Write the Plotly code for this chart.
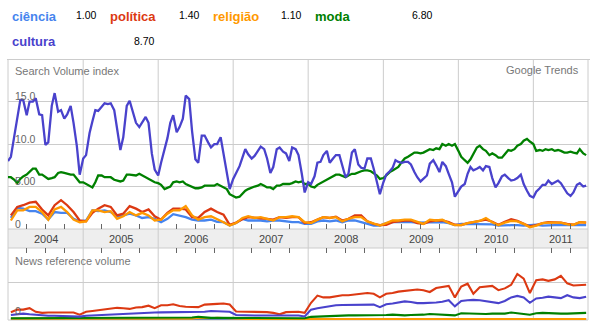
import pandas as pd
import plotly.graph_objects as go

# ---- data -------------------------------------------------------------
terms = ["ciência", "política", "religião", "moda", "cultura"]
term_colors = ["#4684ee", "#dc3912", "#ff9900", "#008000", "#4942cc"]
term_averages = ["1.00", "1.40", "1.10", "6.80", "8.70"]

# Search Volume index, half-monthly (1st / 15th), Jan 2004 - Sep 2011
cultura_search = [
    8.0, 8.5, 11.0, 13.1, 15.2, 15.2, 13.4, 15.0, 15.0, 15.4, 13.5, 13.4, 9.9, 10.2, 14.5, 16.0, 13.8, 14.0, 13.0, 13.5, 14.5, 12.5, 9.8, 6.4,
    8.3, 8.7, 11.3, 12.7, 14.0, 13.9, 14.4, 14.8, 14.7, 14.8, 14.0, 12.0, 9.3, 10.8, 14.5, 15.1, 13.8, 12.5, 12.0, 12.5, 13.2, 12.5, 8.9, 7.0,
    6.3, 7.8, 9.5, 10.7, 12.5, 13.4, 11.4, 12.0, 13.0, 15.7, 15.3, 11.5, 8.2, 7.8, 11.0, 11.0, 10.2, 9.6, 10.0, 10.0, 10.8, 8.8, 7.0, 4.7,
    5.9, 6.6, 7.4, 8.4, 9.4, 8.8, 8.3, 8.6, 9.2, 9.7, 9.4, 8.3, 6.6, 7.3, 9.4, 9.6, 9.1, 8.9, 8.0, 9.6, 9.4, 8.7, 6.5, 4.3,
    5.5, 5.3, 6.2, 7.8, 7.9, 8.7, 9.2, 7.8, 8.3, 8.7, 8.7, 7.5, 6.1, 6.5, 9.0, 9.4, 7.6, 7.2, 7.1, 8.3, 8.3, 7.1, 5.5, 4.1,
    5.5, 6.4, 6.8, 7.2, 8.1, 7.9, 7.8, 7.9, 7.9, 7.6, 6.7, 6.1, 5.6, 5.9, 6.3, 7.7, 8.1, 7.5, 6.7, 7.9, 7.4, 6.5, 5.5, 3.8,
    4.5, 5.0, 5.3, 6.5, 7.3, 6.9, 7.1, 7.3, 6.9, 7.4, 7.3, 6.0, 4.9, 5.4, 6.2, 6.4, 6.0, 5.7, 5.8, 6.0, 6.4, 5.3, 4.5, 3.9,
    3.7, 4.4, 4.8, 5.2, 5.2, 5.7, 5.3, 5.5, 5.7, 5.4, 4.8, 4.2, 3.9, 4.3, 5.2, 5.4, 5.0, 5.1,
]
moda_search = [
    6.1, 6.1, 5.8, 5.4, 5.9, 6.2, 6.4, 6.7, 7.1, 7.1, 6.4, 6.4, 6.1, 5.9, 6.0, 6.1, 6.6, 6.7, 6.6, 6.5, 6.4, 6.4, 5.9, 5.5,
    5.5, 5.3, 5.1, 4.9, 5.5, 6.3, 6.3, 6.1, 6.1, 6.1, 5.8, 5.7, 5.6, 5.7, 6.4, 6.4, 6.3, 6.3, 6.5, 6.3, 6.1, 5.9, 5.7, 5.5,
    5.4, 5.2, 4.7, 4.9, 5.0, 5.5, 5.6, 5.5, 5.6, 5.3, 5.1, 5.0, 4.8, 4.8, 4.9, 5.1, 5.1, 5.1, 5.1, 5.3, 5.1, 4.9, 4.7, 4.1,
    3.9, 3.7, 3.8, 4.2, 4.5, 4.7, 4.9, 5.0, 5.1, 5.3, 5.1, 4.9, 4.9, 4.7, 5.1, 5.1, 5.3, 5.3, 5.3, 5.4, 5.6, 5.5, 5.6, 5.3,
    5.3, 5.0, 4.9, 5.2, 5.4, 5.6, 5.8, 6.0, 6.2, 6.4, 6.4, 6.3, 6.1, 6.3, 6.5, 6.5, 6.7, 6.8, 6.9, 6.9, 6.8, 6.6, 6.3, 5.9,
    6.0, 6.3, 6.7, 6.9, 7.1, 7.3, 7.9, 8.3, 8.5, 8.7, 9.0, 9.0, 8.9, 9.0, 9.2, 9.4, 9.3, 9.5, 9.4, 10.0, 9.8, 10.0, 9.8, 10.0,
    9.2, 8.5, 8.1, 7.8, 8.2, 8.8, 9.6, 9.8, 9.4, 9.2, 8.7, 8.9, 8.7, 8.4, 8.4, 8.8, 9.3, 9.2, 9.4, 9.8, 10.0, 10.4, 10.6, 10.3,
    10.0, 9.2, 9.3, 9.2, 9.4, 9.3, 9.4, 9.2, 9.3, 9.2, 9.0, 9.0, 9.1, 9.0, 8.9, 9.4, 8.9, 8.7,
]

# Search Volume index, monthly, Jan 2004 - Sep 2011
ciencia_search = [
    1.3, 2.5, 2.4, 2.1, 2.1, 1.8, 1.1, 2.0, 1.9, 1.9, 1.2, 0.9,
    1.0, 2.2, 2.1, 2.2, 2.0, 1.5, 1.6, 1.8, 1.6, 1.3, 1.4, 1.2,
    0.8, 1.2, 1.75, 1.6, 1.4, 1.1, 1.0, 1.0, 1.1, 0.85, 0.8, 0.4,
    0.7, 1.2, 1.0, 1.0, 1.0, 0.9, 1.0, 1.0, 0.9, 0.8, 0.8, 0.6,
    0.6, 0.9, 1.0, 0.9, 1.0, 0.8, 1.0, 1.0, 0.8, 0.6, 0.4, 0.4,
    0.7, 0.8, 0.8, 0.85, 0.8, 0.75, 0.75, 0.8, 0.8, 0.8, 0.7, 0.45,
    0.6, 0.6, 0.55, 0.55, 0.6, 0.55, 0.4, 0.45, 0.45, 0.45, 0.4, 0.45,
    0.5, 0.4, 0.45, 0.45, 0.45, 0.45, 0.4, 0.45, 0.45,
]
politica_search = [
    1.6, 2.6, 2.8, 3.1, 3.2, 2.3, 1.6, 2.8, 3.4, 2.8, 2.0, 1.0,
    0.9, 1.9, 2.4, 2.8, 2.6, 1.6, 1.8, 2.7, 2.4, 2.0, 2.3, 1.5,
    1.1, 1.9, 2.4, 2.4, 2.3, 1.4, 1.3, 2.0, 2.4, 2.0, 1.7, 0.5,
    0.75, 1.15, 1.4, 1.3, 1.25, 1.2, 1.1, 1.4, 1.3, 1.4, 1.4, 0.7,
    0.8, 1.1, 1.4, 1.3, 1.45, 1.0, 1.2, 1.6, 1.6, 0.9, 0.6, 0.45,
    0.5, 0.8, 0.9, 1.0, 1.0, 0.7, 0.6, 0.9, 1.0, 1.0, 0.8, 0.5,
    0.45, 0.7, 0.8, 0.95, 1.1, 0.85, 0.5, 0.85, 1.15, 0.95, 0.65, 0.3,
    0.45, 0.7, 0.8, 0.8, 0.75, 0.6, 0.5, 0.8, 0.75,
]
religiao_search = [
    1.0, 2.2, 2.2, 2.6, 2.6, 2.0, 1.1, 2.3, 2.6, 2.0, 1.1, 0.8,
    0.9, 2.2, 2.2, 2.0, 2.1, 1.2, 1.5, 2.0, 1.6, 1.9, 1.6, 1.0,
    1.1, 1.8, 2.2, 2.2, 2.7, 1.6, 1.1, 1.4, 1.5, 1.2, 0.8, 0.4,
    0.7, 1.3, 1.5, 1.3, 1.4, 1.2, 1.0, 1.4, 1.4, 1.5, 1.4, 0.8,
    0.7, 1.1, 1.4, 1.3, 1.4, 0.9, 1.2, 1.4, 1.4, 0.9, 0.6, 0.4,
    0.7, 1.0, 1.0, 1.1, 1.1, 0.8, 0.6, 1.1, 1.0, 1.1, 0.7, 0.45,
    0.45, 0.7, 0.8, 0.95, 1.3, 0.8, 0.45, 0.75, 0.95, 0.9, 0.6, 0.2,
    0.4, 0.7, 0.75, 0.75, 0.75, 0.55, 0.5, 0.8, 0.75,
]

# News reference volume, monthly, Jan 2004 - Sep 2011
ciencia_news = [
    0.0, 0.0, 0.0, 0.0, 0.0, 0.0, 0.0, 0.0, 0.0, 0.0, 0.0, 0.0,
    0.0, 0.0, 0.0, 0.0, 0.0, 0.0, 0.0, 0.0, 0.0, 0.0, 0.0, 0.0,
    0.0, 0.0, 0.0, 0.0, 0.0, 0.0, 0.0, 0.0, 0.0, 0.0, 0.0, 0.0,
    0.0, 0.0, 0.0, 0.0, 0.0, 0.0, 0.0, 0.0, 0.0, 0.0, 0.0, 0.0,
    0.0, 0.0, 0.0, 0.0, 0.0, 0.0, 0.0, 0.0, 0.0, 0.0, 0.0, 0.0,
    0.0, 0.0, 0.0, 0.0, 0.0, 0.0, 0.0, 0.0, 0.0, 0.0, 0.0, 0.0,
    0.0, 0.0, 0.0, 0.0, 0.0, 0.0, 0.0, 0.0, 0.0, 0.0, 0.0, 0.0,
    0.0, 0.0, 0.0, 0.0, 0.0, 0.0, 0.0, 0.0, 0.0,
]
politica_news = [
    0.19, 0.26, 0.26, 0.3, 0.2, 0.17, 0.18, 0.18, 0.19, 0.19, 0.18, 0.12,
    0.2, 0.22, 0.24, 0.26, 0.29, 0.31, 0.3, 0.28, 0.32, 0.33, 0.37, 0.3,
    0.38, 0.38, 0.41, 0.36, 0.34, 0.33, 0.33, 0.4, 0.42, 0.42, 0.43, 0.4,
    0.21, 0.21, 0.2, 0.19, 0.2, 0.19, 0.17, 0.13, 0.19, 0.2, 0.2, 0.17,
    0.45, 0.65, 0.6, 0.6, 0.64, 0.66, 0.66, 0.68, 0.71, 0.72, 0.7, 0.6,
    0.7, 0.72, 0.76, 0.78, 0.78, 0.82, 0.8, 0.75, 0.86, 0.9, 0.92, 0.6,
    0.9, 0.98, 0.7, 0.88, 0.9, 0.92, 0.8, 0.85, 0.95, 1.25, 1.12, 0.72,
    1.08, 1.1, 1.06, 1.1, 1.2, 0.99, 0.93, 0.95, 0.95,
]
religiao_news = [
    0.01, 0.01, 0.01, 0.0, 0.0, 0.0, 0.0, 0.0, 0.01, 0.01, 0.0, 0.0,
    0.0, 0.0, 0.01, 0.01, 0.0, 0.0, 0.0, 0.0, 0.01, 0.01, 0.02, 0.01,
    0.02, 0.01, 0.01, 0.01, 0.0, 0.01, 0.03, 0.02, 0.02, 0.03, 0.02, 0.02,
    0.0, 0.0, 0.0, 0.0, 0.0, 0.0, 0.0, 0.0, 0.0, 0.0, 0.0, 0.0,
    0.0, 0.0, 0.0, 0.0, 0.0, 0.0, 0.0, 0.0, 0.0, 0.0, 0.0, 0.0,
    0.0, 0.0, 0.0, 0.0, 0.0, 0.0, 0.0, 0.0, 0.0, 0.0, 0.0, 0.0,
    0.0, 0.0, 0.0, 0.0, 0.0, 0.0, 0.0, 0.0, 0.0, 0.0, 0.0, 0.0,
    0.0, 0.0, 0.0, 0.0, 0.0, 0.0, 0.0, 0.0, 0.0,
]
moda_news = [
    0.02, 0.02, 0.02, 0.02, 0.02, 0.02, 0.02, 0.02, 0.02, 0.02, 0.02, 0.02,
    0.02, 0.02, 0.02, 0.02, 0.02, 0.03, 0.02, 0.02, 0.03, 0.03, 0.03, 0.02,
    0.03, 0.03, 0.03, 0.03, 0.03, 0.04, 0.06, 0.04, 0.03, 0.03, 0.03, 0.03,
    0.02, 0.03, 0.03, 0.03, 0.03, 0.03, 0.02, 0.03, 0.03, 0.03, 0.03, 0.02,
    0.06, 0.07, 0.08, 0.08, 0.09, 0.09, 0.1, 0.1, 0.1, 0.11, 0.1, 0.09,
    0.11, 0.12, 0.11, 0.1, 0.11, 0.11, 0.12, 0.14, 0.13, 0.12, 0.12, 0.1,
    0.16, 0.15, 0.14, 0.15, 0.14, 0.15, 0.14, 0.15, 0.18, 0.15, 0.14, 0.12,
    0.16, 0.17, 0.16, 0.15, 0.15, 0.15, 0.16, 0.18, 0.17,
]
cultura_news = [
    0.11, 0.13, 0.15, 0.13, 0.11, 0.1, 0.09, 0.09, 0.085, 0.085, 0.075, 0.065,
    0.09, 0.1, 0.11, 0.12, 0.13, 0.13, 0.13, 0.14, 0.16, 0.17, 0.185, 0.18,
    0.185, 0.185, 0.2, 0.2, 0.185, 0.185, 0.19, 0.2, 0.22, 0.22, 0.22, 0.2,
    0.11, 0.1, 0.095, 0.095, 0.095, 0.095, 0.095, 0.085, 0.085, 0.075, 0.095, 0.07,
    0.26, 0.3, 0.33, 0.35, 0.38, 0.39, 0.39, 0.39, 0.4, 0.41, 0.4, 0.33,
    0.41, 0.43, 0.46, 0.49, 0.47, 0.44, 0.44, 0.44, 0.46, 0.48, 0.52, 0.35,
    0.5, 0.52, 0.53, 0.52, 0.5, 0.48, 0.44, 0.5, 0.6, 0.64, 0.6, 0.45,
    0.57, 0.59, 0.62, 0.6, 0.58, 0.66, 0.6, 0.58, 0.62,
]

search_tick_values = [0, 5, 10, 15]
search_tick_text = ["0", "5.00", "10.0", "15.0"]
years = [2004, 2005, 2006, 2007, 2008, 2009, 2010, 2011]

# ---- time axes ----------------------------------------------------------
half_months = pd.date_range("2004-01-01", periods=len(cultura_search), freq="SMS")
months = pd.date_range("2004-01-01", periods=len(ciencia_search), freq="MS") + pd.Timedelta(days=14)
x_start = pd.Timestamp("2004-01-01")
x_end = pd.Timestamp("2011-09-24")
quarter_ticks = [d.strftime("%Y-%m-%d") for d in pd.date_range(x_start, x_end, freq="QS") if d.month != 1]

# ---- page geometry (pixels) ---------------------------------------------
W, H = 602, 329
LEFT, RIGHT = 8, 588
TOP1, BOT1 = 60, 229      # search volume panel
TOP2, BOT2 = 248, 320     # news panel


def fx(px):
    return px / W


def fy(py):
    return 1 - py / H


FONT = "Arial, 'Liberation Sans', sans-serif"
GRID = "#cccccc"

fig = go.Figure()

search_series = {
    "ciência": (months, ciencia_search),
    "política": (months, politica_search),
    "religião": (months, religiao_search),
    "moda": (half_months, moda_search),
    "cultura": (half_months, cultura_search),
}
news_series = {
    "ciência": ciencia_news,
    "política": politica_news,
    "religião": religiao_news,
    "moda": moda_news,
    "cultura": cultura_news,
}

for name, color in zip(terms, term_colors):
    xs, ys = search_series[name]
    fig.add_trace(go.Scatter(x=xs, y=ys, mode="lines", name=name,
                             line=dict(color=color, width=2.3),
                             hoverinfo="skip", xaxis="x", yaxis="y"))
for name, color in zip(terms, term_colors):
    fig.add_trace(go.Scatter(x=months, y=news_series[name], mode="lines", name=name,
                             line=dict(color=color, width=2.1),
                             hoverinfo="skip", xaxis="x2", yaxis="y2"))

common_x = dict(type="date", range=[x_start, x_end], domain=[fx(LEFT), fx(RIGHT)],
                showgrid=False, zeroline=False, showline=False, showticklabels=False,
                tickvals=quarter_ticks, ticks="inside", ticklen=5, tickwidth=1,
                tickcolor="#666666", fixedrange=True)

fig.update_layout(
    width=W, height=H,
    margin=dict(l=0, r=0, t=0, b=0),
    paper_bgcolor="white", plot_bgcolor="white",
    showlegend=False,
    font=dict(family=FONT, size=11, color="#333333"),
    xaxis=dict(anchor="y", **common_x),
    xaxis2=dict(anchor="y2", side="top", **common_x),
    yaxis=dict(domain=[fy(BOT1), fy(TOP1)], range=[0, 19.9], tickvals=[5, 10, 15],
               showgrid=True, gridcolor=GRID, gridwidth=1, zeroline=False,
               showticklabels=False, fixedrange=True),
    yaxis2=dict(domain=[fy(BOT2), fy(TOP2)], range=[-0.028, 1.972], tickvals=[1],
                showgrid=True, gridcolor=GRID, gridwidth=1, zeroline=False,
                showticklabels=False, fixedrange=True),
)

shapes = []
# date band between the two panels
shapes.append(dict(type="rect", xref="paper", yref="paper", x0=fx(LEFT), x1=fx(RIGHT),
                   y0=fy(TOP2), y1=fy(BOT1), fillcolor="#eeeeee", line=dict(width=0), layer="below"))
# year separators through both panels and the band
for yr in years[1:]:
    shapes.append(dict(type="line", xref="x", yref="paper", x0=f"{yr}-01-01", x1=f"{yr}-01-01",
                       y0=fy(BOT2), y1=fy(TOP1), line=dict(color=GRID, width=1), layer="below"))
# frame lines
for y_px in (BOT1, TOP2, BOT2):
    shapes.append(dict(type="line", xref="paper", yref="paper", x0=fx(LEFT), x1=fx(RIGHT),
                       y0=fy(y_px), y1=fy(y_px), line=dict(color=GRID, width=1), layer="below"))
shapes.append(dict(type="line", xref="paper", yref="paper", x0=fx(7), x1=fx(590),
                   y0=fy(59.5), y1=fy(59.5), line=dict(color=GRID, width=1), layer="below"))
for x_px in (LEFT, RIGHT):
    shapes.append(dict(type="line", xref="paper", yref="paper", x0=fx(x_px), x1=fx(x_px),
                       y0=fy(BOT2), y1=fy(TOP1), line=dict(color=GRID, width=1), layer="below"))

annotations = []
# term list with averages
legend_slots = [(10, 74, 16), (108, 177, 16), (211, 279, 16), (313, 410, 16), (10, 132, 41)]
for name, color, avg, (xl, xv, yc) in zip(terms, term_colors, term_averages, legend_slots):
    annotations.append(dict(text=f"<b>{name}</b>", x=fx(xl), y=fy(yc), xref="paper", yref="paper",
                            xanchor="left", yanchor="middle", showarrow=False,
                            font=dict(family=FONT, size=13, color=color)))
    annotations.append(dict(text=avg, x=fx(xv), y=fy(yc - 0.5), xref="paper", yref="paper",
                            xanchor="left", yanchor="middle", showarrow=False,
                            font=dict(family=FONT, size=10.5, color="#000000")))

# panel titles
annotations.append(dict(text="Search Volume index", x=fx(13), y=fy(70.5), xref="paper", yref="paper",
                        xanchor="left", yanchor="middle", showarrow=False,
                        font=dict(family=FONT, size=11, color="#777777")))
annotations.append(dict(text="Google Trends", x=fx(581), y=fy(70), xref="paper", yref="paper",
                        xanchor="right", yanchor="middle", showarrow=False,
                        font=dict(family=FONT, size=11, color="#777777")))
annotations.append(dict(text="News reference volume", x=fx(13), y=fy(261), xref="paper", yref="paper",
                        xanchor="left", yanchor="middle", showarrow=False,
                        font=dict(family=FONT, size=11, color="#777777")))

# value labels sitting just above their gridlines
for v, t in zip(search_tick_values, search_tick_text):
    annotations.append(dict(text=t, x=fx(13), y=v, xref="paper", yref="y",
                            xanchor="left", yanchor="middle", yshift=5.5, showarrow=False,
                            font=dict(family=FONT, size=10.5, color="#666666")))
annotations.append(dict(text="0", x=fx(13), y=0, xref="paper", yref="y2",
                        xanchor="left", yanchor="middle", yshift=8, showarrow=False,
                        font=dict(family=FONT, size=10.5, color="#666666")))

# year labels centred in the visible part of each year
for yr in years:
    a = pd.Timestamp(f"{yr}-01-01")
    b = min(pd.Timestamp(f"{yr + 1}-01-01"), x_end)
    mid = a + (b - a) / 2
    annotations.append(dict(text=str(yr), x=mid, y=fy((BOT1 + TOP2) / 2), xref="x", yref="paper",
                            xanchor="center", yanchor="middle", showarrow=False,
                            font=dict(family=FONT, size=11, color="#444444")))

fig.update_layout(shapes=shapes, annotations=annotations)
fig.write_html("out.html")
